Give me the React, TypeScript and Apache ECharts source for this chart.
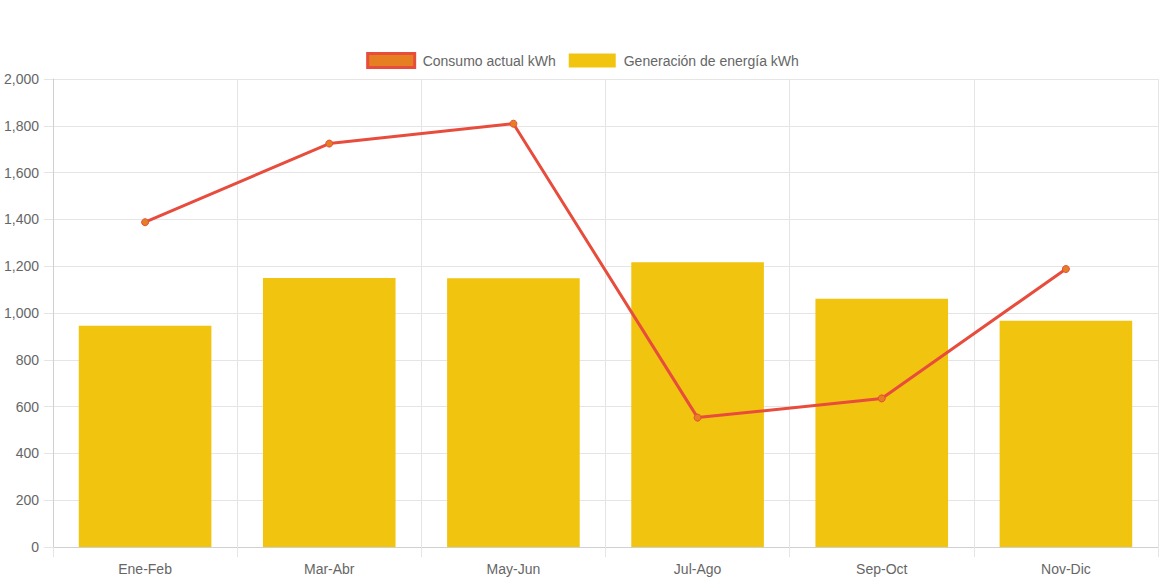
import React, { useEffect, useRef } from "react";
import * as echarts from "echarts";

const categories = ["Ene-Feb", "Mar-Abr", "May-Jun", "Jul-Ago", "Sep-Oct", "Nov-Dic"];
const consumo = [1388, 1724, 1809, 553, 635, 1188];
const generacion = [946, 1150, 1148, 1217, 1061, 967];
const seriesNames = ["Consumo actual kWh", "Generación de energía kWh"];

const FONT = '"Liberation Sans", Arial, Helvetica, sans-serif';
const TEXT = "#666666";
const GRID = "#e5e5e5";
const AXIS = "#d0d0d0";

export default function App() {
  const ref = useRef<HTMLDivElement>(null);
  useEffect(() => {
    document.body.style.margin = "0";
    if (!ref.current) return;
    const chart = echarts.init(ref.current, undefined, { renderer: "svg" });
    chart.setOption({
      animation: false,
      backgroundColor: "#ffffff",
      textStyle: { fontFamily: FONT },
      legend: {
        top: 47,
        left: "center",
        itemWidth: 47,
        itemHeight: 14,
        itemGap: 13,
        textStyle: { color: TEXT, fontSize: 14, fontFamily: FONT, padding: [0, 0, 0, 3] },
        data: [
          {
            name: seriesNames[0],
            icon: "rect",
            itemStyle: { color: "#E67E22", borderColor: "#E74C3C", borderWidth: 3 },
          },
          { name: seriesNames[1], icon: "rect", itemStyle: { color: "#F1C40F" } },
        ],
      },
      grid: { left: 53, right: 7, top: 79, bottom: 35, containLabel: false },
      xAxis: {
        type: "category",
        data: categories,
        boundaryGap: true,
        axisLine: { show: true, lineStyle: { color: AXIS } },
        axisTick: { show: true, length: 10, lineStyle: { color: GRID } },
        axisLabel: { color: TEXT, fontSize: 14, fontFamily: FONT, margin: 15 },
        splitLine: { show: true, lineStyle: { color: GRID } },
      },
      yAxis: {
        type: "value",
        min: 0,
        max: 2000,
        interval: 200,
        axisLine: { show: true, lineStyle: { color: AXIS } },
        axisTick: { show: true, length: 9, lineStyle: { color: GRID } },
        axisLabel: {
          color: TEXT,
          fontSize: 14,
          fontFamily: FONT,
          margin: 14,
          formatter: (v: number) => v.toLocaleString("en-US"),
        },
        splitLine: { show: true, lineStyle: { color: GRID } },
      },
      series: [
        {
          name: seriesNames[0],
          type: "line",
          data: consumo,
          z: 3,
          symbol: "circle",
          symbolSize: 7,
          lineStyle: { color: "#E74C3C", width: 3 },
          itemStyle: { color: "#E67E22", borderColor: "#E74C3C", borderWidth: 1 },
        },
        {
          name: seriesNames[1],
          type: "bar",
          data: generacion,
          z: 2,
          barWidth: "72%",
          itemStyle: { color: "#F1C40F" },
        },
      ],
    });
    return () => chart.dispose();
  }, []);
  return <div ref={ref} style={{ width: 1165, height: 582 }} />;
}
